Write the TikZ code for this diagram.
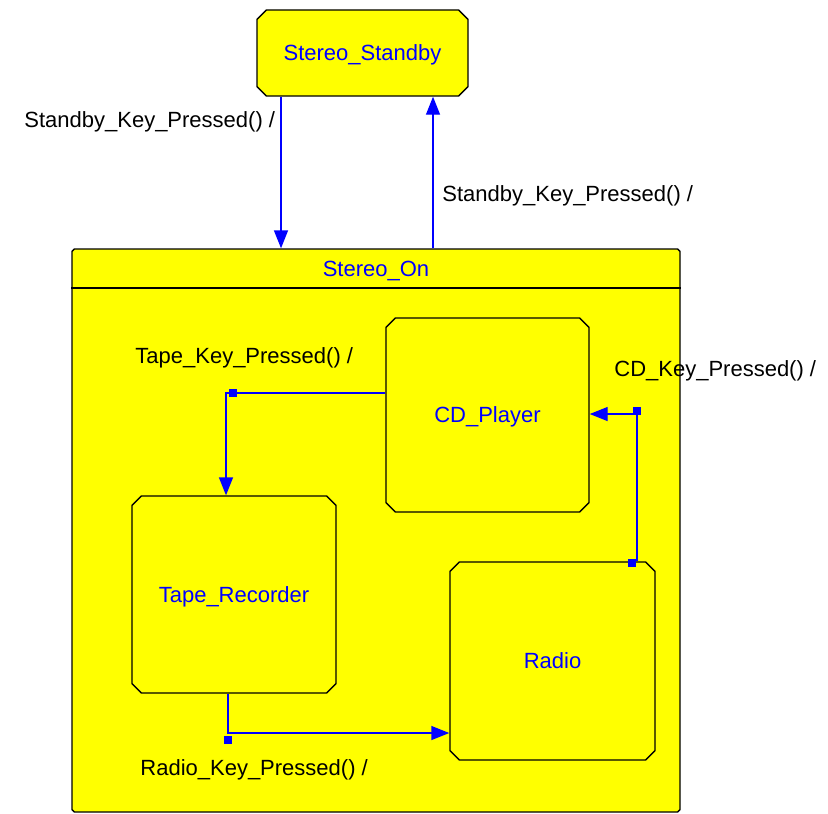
\documentclass[tikz,border=0pt]{standalone}
\usepackage{fontspec}
\setmainfont{Liberation Sans}
\usetikzlibrary{arrows.meta,shapes.misc}
\definecolor{stateyellow}{RGB}{255,255,0}
\definecolor{transblue}{RGB}{0,0,255}

\begin{document}
\begin{tikzpicture}[x=0.5pt,y=-0.5pt,>={Triangle[length=9pt,width=7pt]},font=\fontsize{11}{13}\selectfont]
  \tikzstyle{state box}=[chamfered rectangle,chamfered rectangle xsep=1.2pt,draw=black,line width=0.7pt,fill=stateyellow,text=transblue,inner sep=0pt,text depth=0pt]
  \tikzstyle{trans}=[->,draw=transblue,line width=0.7pt]
  \tikzstyle{junction}=[rectangle,fill=transblue,inner sep=0pt,minimum size=4pt]
  \tikzstyle{event}=[anchor=west,inner sep=0pt,text=black,text depth=0pt]

  \useasboundingbox (0,0) rectangle (828,813);

  % states
  \node[state box,minimum width=105.5pt,minimum height=43pt] (standby) at (362.5,53) {Stereo\_Standby};
  \node[state box,minimum width=304pt,minimum height=281.5pt] (on) at (376,530.5) {\vphantom{Stereo\_On}};
  \node[text=transblue,inner sep=0pt,text depth=0pt] (ontitle) at (376,269) {Stereo\_On};
  \draw[line width=0.7pt] (on.west |- 0,288) -- (on.east |- 0,288);

  \node[state box,minimum width=101.5pt,minimum height=97pt] (cd)    at (487.5,415) {CD\_Player};
  \node[state box,minimum width=102pt,minimum height=98.5pt] (tape)  at (234,594.5) {Tape\_Recorder};
  \node[state box,minimum width=102.5pt,minimum height=99pt] (radio) at (552.5,661) {Radio};

  % transitions
  \coordinate (dn) at (281,0);
  \coordinate (up) at (433,0);
  \draw[trans] (standby.south -| dn) -- (on.north -| dn);
  \draw[trans] (on.north -| up) -- (standby.south -| up);

  \coordinate (tk) at (226,393);
  \draw[trans] (cd.west |- tk) -| (tape.north -| tk);
  \node[junction] (jtape) at (233,393) {};

  \coordinate (ck) at (637,414);
  \draw[trans] (radio.north -| ck) -- (ck) -- (cd.east |- ck);
  \node[junction] (jcd1) at (632,563) {};
  \node[junction] (jcd2) at (637,411) {};

  \coordinate (rk) at (228,733);
  \draw[trans] (tape.south -| rk) |- (radio.west |- rk);
  \node[junction] (jradio) at (228,740) {};

  % events
  \node[event] (ev1) at (24,120) {Standby\_Key\_Pressed() /};
  \node[event] (ev2) at (442,194) {Standby\_Key\_Pressed() /};
  \node[event] (ev3) at (135,356) {Tape\_Key\_Pressed() /};
  \node[event] (ev4) at (614,369) {CD\_Key\_Pressed() /};
  \node[event] (ev5) at (140,768) {Radio\_Key\_Pressed() /};
\end{tikzpicture}
\end{document}
